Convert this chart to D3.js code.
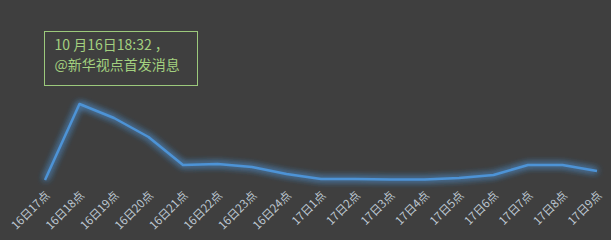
<!DOCTYPE html>
<html lang="zh">
<head>
<meta charset="UTF-8">
<title>Line chart</title>
<script src="https://d3js.org/d3.v7.min.js"></script>
<style>
    body { margin: 0; background: #3f3f3f; }
    svg { display: block; }
</style>
</head>
<body>
<svg id="chart" width="611" height="240"></svg>
<script>
    const hours = ["16日17点", "16日18点", "16日19点", "16日20点", "16日21点", "16日22点", "16日23点", "16日24点",
        "17日1点", "17日2点", "17日3点", "17日4点", "17日5点", "17日6点", "17日7点", "17日8点", "17日9点"];
    const counts = [1, 77, 63, 44, 16, 17, 14, 7, 2, 2, 1.5, 1.5, 3, 6, 16, 16, 10];
    const noteLines = ["10 月16日18:32 ，", "@新华视点首发消息"];

    const svg = d3.select("#chart");
    const width = +svg.attr("width");
    const height = +svg.attr("height");

    svg.append("rect").attr("width", width).attr("height", height).attr("fill", "#3f3f3f");

    const defs = svg.append("defs");
    const glow = defs.append("filter").attr("id", "glow")
        .attr("x", "-10%").attr("y", "-30%").attr("width", "120%").attr("height", "160%");
    glow.append("feGaussianBlur").attr("in", "SourceGraphic").attr("stdDeviation", 3.5).attr("result", "blur");
    const merge = glow.append("feMerge");
    merge.append("feMergeNode").attr("in", "blur");
    merge.append("feMergeNode").attr("in", "blur");
    merge.append("feMergeNode").attr("in", "SourceGraphic");

    const xScale = d3.scalePoint()
        .domain(hours)
        .range([45, 597]);

    const yScale = d3.scaleLinear()
        .domain([0, 100])
        .range([181, 81]);

    const line = d3.line()
        .x((d, i) => xScale(hours[i]))
        .y(d => yScale(d));

    svg.append("path")
        .datum(counts)
        .attr("d", line)
        .attr("fill", "none")
        .attr("stroke", "#4d93d6")
        .attr("stroke-width", 2.5)
        .attr("stroke-linejoin", "round")
        .attr("filter", "url(#glow)");

    // x labels, rotated
    const xAxis = d3.axisBottom(xScale).tickSize(0).tickPadding(0);
    const axisG = svg.append("g")
        .attr("transform", "translate(0,190)")
        .call(xAxis);
    axisG.select(".domain").remove();
    axisG.selectAll("text")
        .attr("fill", "#bcc6d0")
        .style("font-family", "'Noto Sans CJK SC', 'Noto Sans', sans-serif")
        .style("font-size", "11.5px")
        .attr("dy", 0)
        .attr("y", 0)
        .attr("x", 0)
        .attr("transform", "translate(5,6) rotate(-45)")
        .style("text-anchor", "end");

    // annotation box
    const note = svg.append("g").attr("transform", "translate(44.5,31.5)");
    note.append("rect")
        .attr("width", 153)
        .attr("height", 54)
        .attr("fill", "none")
        .attr("stroke", "#9cc97c")
        .attr("stroke-width", 1);
    note.selectAll("text")
        .data(noteLines)
        .enter().append("text")
        .attr("x", 10)
        .attr("y", (d, i) => 18.5 + i * 19.5)
        .attr("fill", "#a3d07f")
        .style("font-family", "'Noto Sans CJK SC', sans-serif")
        .style("font-size", "14px")
        .text(d => d);
</script>
</body>
</html>
